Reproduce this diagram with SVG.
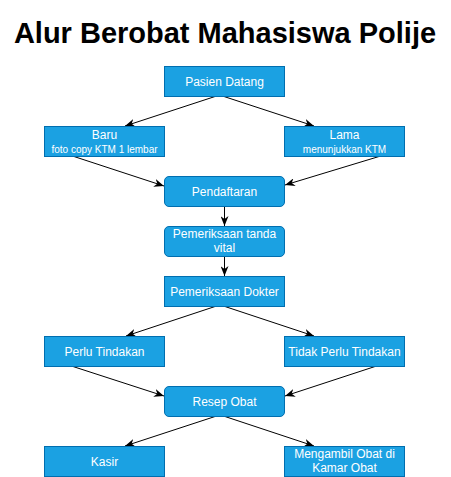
<svg xmlns="http://www.w3.org/2000/svg" width="451" height="477" viewBox="0 0 451 477">
<defs>
<marker id="arr" viewBox="0 0 10 8" refX="10" refY="4" markerWidth="10" markerHeight="8" markerUnits="userSpaceOnUse" orient="auto">
<path d="M0,0 L10,4 L0,8 L3,4 z" fill="#000"/>
</marker>
<style>
.box{fill:#1BA1E2;stroke:#006EAF;stroke-width:1}
.t{font-family:"Liberation Sans",Arial,sans-serif;font-size:12px;fill:#fff;text-anchor:middle}
.s{font-family:"Liberation Sans",Arial,sans-serif;font-size:10px;fill:#fff;text-anchor:middle}
.c{stroke:#000;stroke-width:1;fill:none;marker-end:url(#arr)}
.title{font-family:"Liberation Sans",Arial,sans-serif;font-size:29px;font-weight:bold;fill:#000;text-anchor:middle}
</style>
</defs>
<rect width="451" height="477" fill="#fff"/>
<text class="title" x="225" y="43">Alur Berobat Mahasiswa Polije</text>
<g id="connectors">
<line class="c" x1="215" y1="96.5" x2="125" y2="126"/>
<line class="c" x1="224" y1="96.5" x2="314" y2="126"/>
<line class="c" x1="74" y1="156.5" x2="164" y2="186"/>
<line class="c" x1="379" y1="156.5" x2="285" y2="185"/>
<line class="c" x1="224.5" y1="206.5" x2="224.5" y2="226"/>
<line class="c" x1="224.5" y1="256.5" x2="224.5" y2="276"/>
<line class="c" x1="215" y1="306.5" x2="126" y2="336"/>
<line class="c" x1="225" y1="306.5" x2="314" y2="336"/>
<line class="c" x1="73" y1="366.5" x2="164" y2="396"/>
<line class="c" x1="375" y1="366.5" x2="285" y2="396"/>
<line class="c" x1="215" y1="416.5" x2="125" y2="446"/>
<line class="c" x1="225" y1="416.5" x2="314" y2="446"/>
</g>
<g id="pasien"><rect class="box" x="164.5" y="66.5" width="120" height="30"/><text class="t" x="224.5" y="86">Pasien Datang</text></g>
<g id="baru"><rect class="box" x="44.5" y="126.5" width="120" height="30"/><text class="t" x="104.5" y="139">Baru</text><text class="s" x="104.5" y="152.5">foto copy KTM 1 lembar</text></g>
<g id="lama"><rect class="box" x="284.5" y="126.5" width="120" height="30"/><text class="t" x="344.5" y="139">Lama</text><text class="s" x="344.5" y="152.5">menunjukkan KTM</text></g>
<g id="pendaftaran"><rect class="box" x="164.5" y="176.5" width="120" height="30" rx="4.5"/><text class="t" x="224.5" y="196">Pendaftaran</text></g>
<g id="vital"><rect class="box" x="164.5" y="226.5" width="120" height="30" rx="4.5"/><text class="t" x="224.5" y="238">Pemeriksaan tanda</text><text class="t" x="224.5" y="252">vital</text></g>
<g id="dokter"><rect class="box" x="164.5" y="276.5" width="120" height="30"/><text class="t" x="224.5" y="296">Pemeriksaan Dokter</text></g>
<g id="perlu"><rect class="box" x="44.5" y="336.5" width="120" height="30"/><text class="t" x="104.5" y="356">Perlu Tindakan</text></g>
<g id="tidak"><rect class="box" x="284.5" y="336.5" width="120" height="30"/><text class="t" x="344.5" y="356">Tidak Perlu Tindakan</text></g>
<g id="resep"><rect class="box" x="164.5" y="386.5" width="120" height="30" rx="4.5"/><text class="t" x="224.5" y="406">Resep Obat</text></g>
<g id="kasir"><rect class="box" x="44.5" y="446.5" width="120" height="30"/><text class="t" x="104.5" y="466">Kasir</text></g>
<g id="mengambil"><rect class="box" x="284.5" y="446.5" width="120" height="30"/><text class="t" x="344.5" y="458">Mengambil Obat di</text><text class="t" x="344.5" y="472">Kamar Obat</text></g>
</svg>
